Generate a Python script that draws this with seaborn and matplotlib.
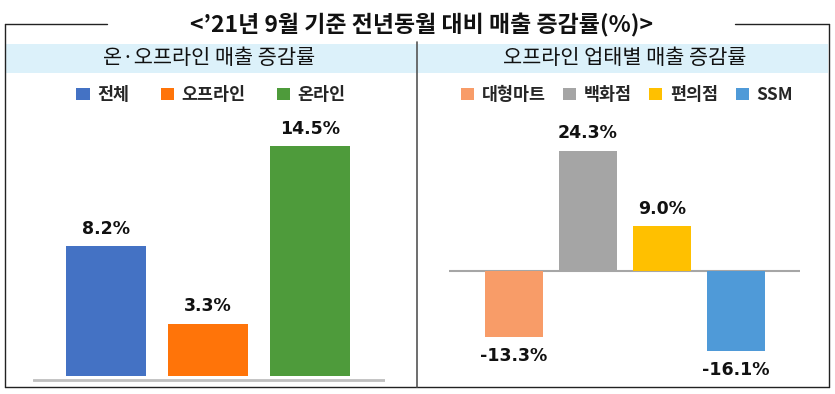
import matplotlib
matplotlib.use("Agg")
import matplotlib.pyplot as plt
import seaborn as sns
import pandas as pd
from matplotlib.patches import Patch, Rectangle
from matplotlib.lines import Line2D

sns.set_theme(style="white")
plt.rcParams['font.family'] = ['Noto Sans CJK KR', 'DejaVu Sans']

# ---- data ----
title = "<’21년 9월 기준 전년동월 대비 매출 증감률(%)>"
left_title = "온·오프라인 매출 증감률"
right_title = "오프라인 업태별 매출 증감률"

left_cats = ["전체", "오프라인", "온라인"]
left_vals = [8.2, 3.3, 14.5]
left_colors = ["#4472C4", "#FF7409", "#4E9B3B"]

right_cats = ["대형마트", "백화점", "편의점", "SSM"]
right_vals = [-13.3, 24.3, 9.0, -16.1]
right_colors = ["#F89C68", "#A5A5A5", "#FFC000", "#4F9AD8"]

W, H = 835, 394
fig = plt.figure(figsize=(W / 100, H / 100), dpi=100)


def fx(px):
    return px / W


def fy(py):
    return 1 - py / H


def add_axes_px(left, top, right, bottom):
    return fig.add_axes([fx(left), fy(bottom), fx(right - left), (bottom - top) / H])


# ---- frame decorations ----
fig.patches.append(Rectangle((fx(6), fy(73)), fx(822), (73 - 44) / H,
                             transform=fig.transFigure, facecolor="#DCF1FA",
                             edgecolor="none", zorder=0))
lc = "#222222"
for (x0, y0, x1, y1) in [(5, 24, 107, 24), (735, 24, 829, 24), (5, 24, 5, 387),
                         (829, 24, 829, 387), (5, 387, 829, 387)]:
    fig.add_artist(Line2D([fx(x0), fx(x1)], [fy(y0), fy(y1)], color=lc, lw=1.0))
fig.add_artist(Line2D([fx(417), fx(417)], [fy(42), fy(387)], color="#555555", lw=1.2))

fig.text(fx(421), fy(25), title, ha="center", va="center", fontsize=16.5,
         color="#111111", fontweight="bold")
fig.text(fx(209), fy(58), left_title, ha="center", va="center", fontsize=15,
         color="#111111", fontweight="medium")
fig.text(fx(625), fy(58), right_title, ha="center", va="center", fontsize=15,
         color="#111111", fontweight="medium")

# ---- left panel ----
axL = add_axes_px(33, 110, 385, 383)
dfL = pd.DataFrame({"cat": left_cats, "val": left_vals})
sns.barplot(data=dfL, x="cat", y="val", hue="cat", palette=left_colors,
            width=0.78, legend=False, ax=axL, linewidth=0, saturation=1)
axL.set_xlim(-0.716, 2.735)
axL.set_ylim(-0.44, 16.77)
axL.axhline(-0.25, color="#BFBFBF", lw=2)
for i, v in enumerate(left_vals):
    axL.annotate(f"{v:.1f}%", (i, v), xytext=(0, 12.5), textcoords="offset points",
                 ha="center", va="center", fontsize=12.5, fontweight="bold",
                 family="DejaVu Sans", color="#111111")
axL.axis("off")
hL = [Patch(facecolor=c, edgecolor="none") for c in left_colors]
axL.legend(hL, left_cats, loc="center", bbox_to_anchor=(fx(211), fy(95)),
           bbox_transform=fig.transFigure, ncol=3, frameon=False,
           handlelength=0.75, handleheight=0.75, handletextpad=0.45,
           columnspacing=1.8, prop={"size": 12.5, "weight": "bold"})

# ---- right panel ----
axR = add_axes_px(449, 110, 800, 385)
dfR = pd.DataFrame({"cat": right_cats, "val": right_vals})
sns.barplot(data=dfR, x="cat", y="val", hue="cat", palette=right_colors,
            width=0.78, legend=False, ax=axR, linewidth=0, saturation=1)
axR.set_xlim(-0.878, 3.865)
axR.set_ylim(-23.03, 32.53)
axR.axhline(0, color="#A6A6A6", lw=1.5, zorder=0.5)
for i, v in enumerate(right_vals):
    off = 12.5 if v >= 0 else -14
    axR.annotate(f"{v:.1f}%", (i, v), xytext=(0, off), textcoords="offset points",
                 ha="center", va="center", fontsize=12.5, fontweight="bold",
                 family="DejaVu Sans", color="#111111")
axR.axis("off")
hR = [Patch(facecolor=c, edgecolor="none") for c in right_colors]
axR.legend(hR, right_cats, loc="center", bbox_to_anchor=(fx(627), fy(95)),
           bbox_transform=fig.transFigure, ncol=4, frameon=False,
           handlelength=0.75, handleheight=0.75, handletextpad=0.45,
           columnspacing=1.0, prop={"size": 12.5, "weight": "bold"})

fig.savefig("out.png", dpi=100)
